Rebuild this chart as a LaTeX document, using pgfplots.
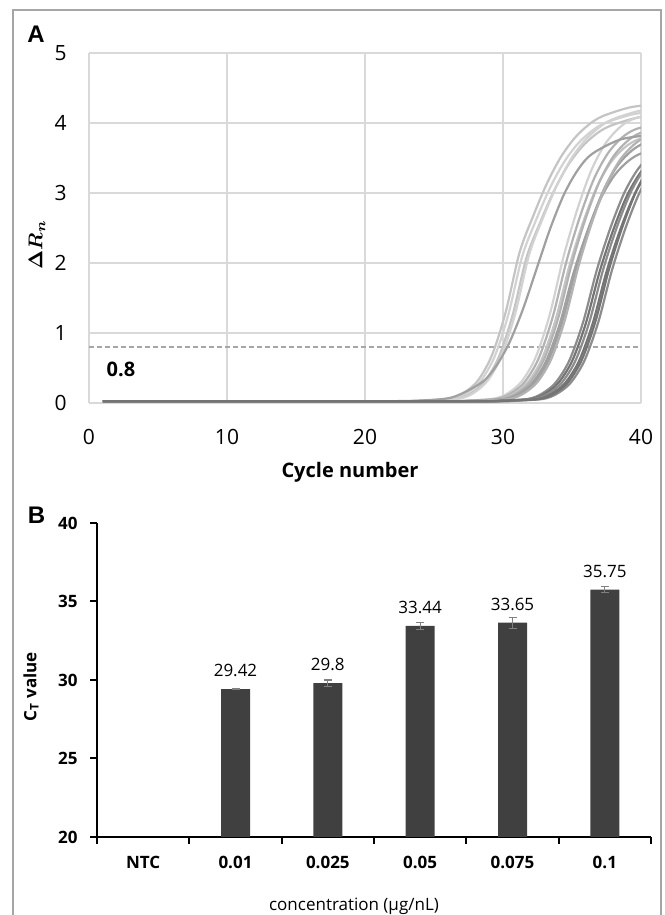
\documentclass[border=0pt]{standalone}
\usepackage{fontspec}
\setmainfont{Open Sans}
\newfontfamily\arial{Liberation Sans}
\usepackage{pgfplots}
\pgfplotsset{compat=1.18}
\definecolor{framec}{HTML}{A6A6A6}
\definecolor{gridc}{HTML}{D9D9D9}
\definecolor{ca}{HTML}{D2D2D2}
\definecolor{cb}{HTML}{C4C4C4}
\definecolor{cc}{HTML}{B2B2B2}
\definecolor{cd}{HTML}{A0A0A0}
\definecolor{ce}{HTML}{8C8C8C}
\definecolor{cf}{HTML}{747474}
\definecolor{barc}{HTML}{404040}
\begin{document}
\begin{tikzpicture}
\useasboundingbox (0,0) rectangle (332.5bp,457.5bp);
\draw[framec, line width=0.8bp] (6.5bp,0) -- (6.5bp,452.5bp) -- (330.5bp,452.5bp) -- (330.5bp,0);

\begin{axis}[at={(44.5bp,256bp)}, anchor=south west, scale only axis,
  width=276bp, height=175bp, xmin=0, xmax=40, ymin=0, ymax=5,
  xtick={0,10,20,30,40}, ytick={0,1,2,3,4,5},
  grid=major, grid style={gridc, line width=1bp},
  axis line style={draw=none},
  major tick length=0pt, tick style={draw=none},
  ticklabel style={font=\fontsize{10.5bp}{12bp}\selectfont, inner sep=0pt},
  xticklabel style={yshift=-13bp}, yticklabel style={xshift=-11bp},
  /pgf/number format/assume math mode=true,
  every axis plot/.append style={line width=1.1bp, smooth, no markers}]
\addplot[framec, line width=0.8bp, sharp plot, dash pattern=on 2.5bp off 1.5bp] coordinates {(0,0.8) (40,0.8)};
% light early group
\addplot[cb] coordinates {(1,0.025) (21.2,0.025) (24.2,0.035) (26.2,0.066) (27.2,0.148) (28.2,0.326) (29.2,0.683) (30.2,1.302) (31.2,2.15) (32.2,2.677) (33.2,3.144) (34.2,3.516) (35.2,3.787) (36.2,3.974) (37.2,4.096) (39.2,4.223) (41.2,4.271)};
\addplot[ca] coordinates {(1,0.025) (21.4,0.025) (24.4,0.035) (26.4,0.064) (27.4,0.145) (28.4,0.319) (29.4,0.667) (30.4,1.272) (31.4,2.1) (32.4,2.615) (33.4,3.071) (34.4,3.434) (35.4,3.699) (36.4,3.881) (37.4,4.001) (39.4,4.124) (41.4,4.172)};
\addplot[cb] coordinates {(1,0.025) (21.7,0.025) (24.7,0.035) (26.7,0.063) (27.7,0.143) (28.7,0.315) (29.7,0.659) (30.7,1.257) (31.7,2.075) (32.7,2.583) (33.7,3.034) (34.7,3.393) (35.7,3.655) (36.7,3.835) (37.7,3.953) (39.7,4.075) (41.7,4.122)};
\addplot[ca] coordinates {(1,0.025) (21.9,0.025) (24.9,0.035) (26.9,0.065) (27.9,0.147) (28.9,0.323) (29.9,0.675) (30.9,1.287) (31.9,2.125) (32.9,2.646) (33.9,3.107) (34.9,3.475) (35.9,3.743) (36.9,3.927) (37.9,4.049) (39.9,4.174) (41.9,4.222)};
% middle group
\addplot[ca] coordinates {(1,0.025) (24.4,0.025) (27.4,0.035) (29.4,0.064) (30.4,0.145) (31.4,0.319) (32.4,0.667) (33.4,1.272) (34.4,2.1) (35.4,2.775) (36.4,3.324) (37.4,3.699) (38.4,3.927) (39.4,4.055) (41.4,4.161)};
\addplot[cc] coordinates {(1,0.025) (24.6,0.025) (27.6,0.035) (29.6,0.062) (30.6,0.140) (31.6,0.307) (32.6,0.644) (33.6,1.227) (34.6,2.025) (35.6,2.676) (36.6,3.205) (37.6,3.567) (38.6,3.787) (39.6,3.910) (41.6,4.012)};
\addplot[cb] coordinates {(1,0.025) (24.8,0.025) (27.8,0.035) (29.8,0.060) (30.8,0.135) (31.8,0.296) (32.8,0.620) (33.8,1.181) (34.8,1.95) (35.8,2.577) (36.8,3.086) (37.8,3.435) (38.8,3.647) (39.8,3.765) (41.8,3.864)};
\addplot[cc] coordinates {(1,0.025) (25,0.025) (28,0.035) (30,0.061) (31,0.138) (32,0.304) (33,0.636) (34,1.212) (35,2.0) (36,2.643) (37,3.166) (38,3.523) (39,3.740) (40,3.862) (42,3.963)};
\addplot[cd] coordinates {(1,0.025) (25.1,0.025) (28.1,0.035) (30.1,0.057) (31.1,0.128) (32.1,0.281) (33.1,0.588) (34.1,1.121) (35.1,1.85) (36.1,2.445) (37.1,2.928) (38.1,3.259) (39.1,3.460) (40.1,3.572) (42.1,3.666)};
\addplot[cd] coordinates {(1,0.025) (25.3,0.025) (28.3,0.035) (30.3,0.059) (31.3,0.133) (32.3,0.292) (33.3,0.612) (34.3,1.166) (35.3,1.925) (36.3,2.544) (37.3,3.047) (38.3,3.391) (39.3,3.600) (40.3,3.717) (42.3,3.814)};
\addplot[cc] coordinates {(1,0.025) (25.5,0.025) (28.5,0.035) (30.5,0.060) (31.5,0.136) (32.5,0.300) (33.5,0.628) (34.5,1.196) (35.5,1.975) (36.5,2.610) (37.5,3.126) (38.5,3.479) (39.5,3.693) (40.5,3.814) (42.5,3.913)};
% slow curve
\addplot[cd] coordinates {(1,0.025) (20.45,0.025) (24.45,0.04) (26.45,0.089) (28.45,0.292) (29.45,0.512) (30.45,0.857) (31.45,1.342) (32.45,1.925) (33.45,2.508) (34.45,2.993) (35.45,3.338) (36.45,3.558) (38.45,3.761) (40.45,3.824)};
% dark late group
\addplot[ce] coordinates {(1,0.025) (26.8,0.025) (29.8,0.035) (31.8,0.058) (32.8,0.131) (33.8,0.288) (34.8,0.604) (35.8,1.151) (36.8,1.9) (37.8,2.511) (38.8,3.007) (39.8,3.347) (40.8,3.553) (41.8,3.669)};
\addplot[cf] coordinates {(1,0.025) (27,0.025) (30,0.035) (32,0.057) (33,0.129) (34,0.285) (35,0.596) (36,1.136) (37,1.875) (38,2.478) (39,2.968) (40,3.303) (41,3.506) (42,3.621)};
\addplot[ce] coordinates {(1,0.025) (27.25,0.025) (30.25,0.035) (32.25,0.058) (33.25,0.131) (34.25,0.288) (35.25,0.604) (36.25,1.151) (37.25,1.9) (38.25,2.511) (39.25,3.007) (40.25,3.347) (41.25,3.553) (42.25,3.669)};
\addplot[cf] coordinates {(1,0.025) (27.5,0.025) (30.5,0.035) (32.5,0.057) (33.5,0.129) (34.5,0.285) (35.5,0.596) (36.5,1.136) (37.5,1.875) (38.5,2.478) (39.5,2.968) (40.5,3.303) (41.5,3.506) (42.5,3.621)};
\addplot[ce] coordinates {(1,0.025) (27.9,0.025) (30.9,0.035) (32.9,0.058) (33.9,0.131) (34.9,0.288) (35.9,0.604) (36.9,1.151) (37.9,1.9) (38.9,2.511) (39.9,3.007) (40.9,3.347) (41.9,3.553)};
\addplot[cf] coordinates {(1,0.025) (27.7,0.025) (30.7,0.035) (32.7,0.059) (33.7,0.133) (34.7,0.292) (35.7,0.612) (36.7,1.166) (37.7,1.925) (38.7,2.544) (39.7,3.047) (40.7,3.391) (41.7,3.600)};
\end{axis}

\begin{axis}[at={(48.5bp,39bp)}, anchor=south west, scale only axis,
  width=277bp, height=157bp, xmin=-0.5, xmax=5.5, ymin=20, ymax=40,
  axis x line=bottom, axis y line=left,
  axis line style={black, line width=1bp, -},
  ytick={20,25,30,35,40},
  xtick={-0.5,0.5,1.5,2.5,3.5,4.5,5.5}, xticklabels={},
  extra x ticks={0,1,2,3,4,5},
  extra x tick labels={NTC,0.01,0.025,0.05,0.075,0.1},
  extra x tick style={major tick length=0pt, tick style={draw=none},
    xticklabel style={yshift=-9.5bp}},
  tick align=outside, major tick length=3.5bp,
  tick style={black, line width=1bp},
  ticklabel style={font=\bfseries\fontsize{8.5bp}{10bp}\selectfont, inner sep=0pt},
  yticklabel style={xshift=-6bp},
  /pgf/number format/assume math mode=true]
\addplot[ybar, bar width=14.5bp, fill=barc, draw=none,
  nodes near coords, point meta=explicit symbolic,
  nodes near coords style={font=\fontsize{8.5bp}{10bp}\selectfont, inner sep=0pt, anchor=south, yshift=6bp, black},
  error bars/.cd, y dir=both, y explicit,
  error bar style={color=gray, line width=0.6bp},
  error mark options={rotate=90, color=gray, line width=0.6bp, mark size=2bp}]
  table[x=x, y=y, y error=e, meta=lab] {
x y e lab
1 29.42 0.05 29.42
2 29.8 0.2 29.8
3 33.44 0.2 33.44
4 33.65 0.35 33.65
5 35.75 0.2 35.75
};
\end{axis}

\node[font=\arial\bfseries\fontsize{12bp}{14bp}\selectfont] at (18bp,440.25bp) {A};
\node[font=\arial\bfseries\fontsize{12bp}{14bp}\selectfont] at (18.25bp,200bp) {B};
\node[font=\bfseries\fontsize{10bp}{12bp}\selectfont] at (175bp,221.5bp) {Cycle number};
\node[font=\bfseries\fontsize{10bp}{12bp}\selectfont] at (60.5bp,273bp) {0.8};
\node[rotate=90, font=\boldmath\fontsize{10bp}{12bp}\selectfont] at (18.5bp,335bp) {$\Delta R_{n}$};
\node[rotate=90, font=\bfseries\fontsize{8.5bp}{10bp}\selectfont] at (15.5bp,114bp) {C\textsubscript{T} value};
\node[font=\fontsize{8.5bp}{10bp}\selectfont] at (177bp,4.5bp) {concentration (μg/nL)};
\end{tikzpicture}
\end{document}
